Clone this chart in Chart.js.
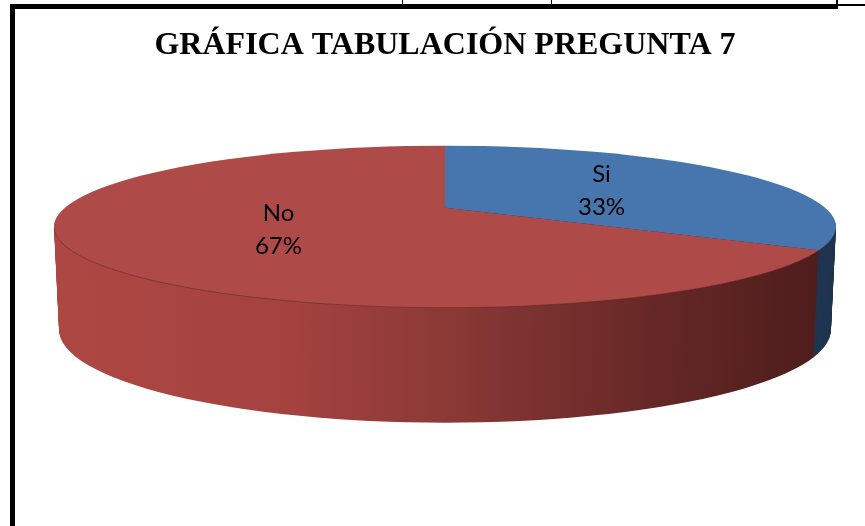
<!DOCTYPE html>
<html>
<head>
<meta charset="utf-8">
<script src="https://cdn.jsdelivr.net/npm/chart.js@4"></script>
<style>
    body { margin: 0; background: #fff; }
    #wrap { position: relative; width: 865px; height: 526px; overflow: hidden; }
    .rule { position: absolute; background: #000; }
</style>
</head>
<body>
<div id="wrap">
    <canvas id="pregunta7Chart" width="865" height="526"></canvas>
    <!-- table borders of the original document -->
    <div class="rule" style="left:10px; top:4px; width:828px; height:5px;"></div>
    <div class="rule" style="left:837px; top:4px; width:28px; height:2px;"></div>
    <div class="rule" style="left:10px; top:4px; width:5px; height:522px;"></div>
    <div class="rule" style="left:402px; top:0; width:1px; height:5px;"></div>
    <div class="rule" style="left:551px; top:0; width:1px; height:5px;"></div>
    <div class="rule" style="left:836px; top:0; width:2px; height:5px;"></div>
</div>
<script>
var categories = ['Si', 'No'];
var respuestas = [33, 67];
var chartTitle = 'GRÁFICA TABULACIÓN PREGUNTA 7';

var topColors = ['#4775ad', '#ae4a47'];

// shape of the tilted pie (top face, base face, depth)
var TOP = {rx: 391, ry: 81, dy: 0};
var BASE = {rx: 386, ry: 93, dy: 103};
var SHIFT = 19;      // apex sits above the ellipse centre (perspective)
var DEPTH = 103;
var OVER = 1.4;      // arcs drawn larger, then clipped to the ellipse

function lerp(a, b, t) { return a + (b - a) * t; }

var pie3d = {
    id: 'pie3d',
    beforeDatasetsDraw: function (chart) {
        var ctx = chart.ctx;
        var arcs = chart.getDatasetMeta(0).data;
        var cx = arcs[0].x, cy = arcs[0].y, r0 = arcs[0].outerRadius;
        var fills = arcs.map(function (a) { return a.options.backgroundColor; });

        // side colours, gradient in the arc's own (unscaled) space
        var g = ctx.createLinearGradient(cx - r0 / OVER, 0, cx + r0 / OVER, 0);
        g.addColorStop(0, '#ad4744');
        g.addColorStop(0.3, '#a4423f');
        g.addColorStop(0.5, '#8b3936');
        g.addColorStop(0.75, '#682927');
        g.addColorStop(1, '#4b1c1b');
        var sides = ['#1f3550', g];

        for (var i = DEPTH; i >= 0; i--) {
            var t = i / DEPTH;
            var rx = lerp(TOP.rx, BASE.rx, t);
            var ry = lerp(TOP.ry, BASE.ry, t);
            var ey = cy + lerp(TOP.dy, BASE.dy, t);
            var sh = SHIFT * ry / TOP.ry;
            ctx.save();
            ctx.beginPath();
            ctx.ellipse(cx, ey, rx, ry, 0, 0, Math.PI * 2);
            ctx.clip();
            ctx.translate(cx, ey - sh);
            ctx.scale(OVER * rx / r0, OVER * ry / r0);
            ctx.translate(-cx, -cy);
            arcs.forEach(function (a, k) {
                a.options.backgroundColor = i === 0 ? fills[k] : sides[k];
                a.draw(ctx);
            });
            ctx.restore();
        }
        arcs.forEach(function (a, k) { a.options.backgroundColor = fills[k]; });

        // faint rim line where the top face meets the side
        ctx.save();
        ctx.strokeStyle = 'rgba(90,30,28,0.45)';
        ctx.lineWidth = 1;
        ctx.beginPath();
        ctx.ellipse(cx, cy, TOP.rx, TOP.ry, 0, 0.05, Math.PI - 0.02);
        ctx.stroke();
        ctx.restore();
        return false;
    },
    afterDraw: function (chart) {
        var ctx = chart.ctx;
        var arcs = chart.getDatasetMeta(0).data;
        var vals = chart.data.datasets[0].data;
        var total = vals.reduce(function (s, v) { return s + v; }, 0);
        ctx.save();
        ctx.fillStyle = '#000';
        ctx.font = '24px Lato';
        ctx.textAlign = 'center';
        ctx.textBaseline = 'middle';
        arcs.forEach(function (a, k) {
            var mid = (a.startAngle + a.endAngle) / 2;
            var x = a.x - 5 + Math.cos(mid) * 0.48 * TOP.rx;
            var y = a.y - SHIFT + 2 + Math.sin(mid) * 0.48 * TOP.ry;
            ctx.fillText(chart.data.labels[k], x, y - 16);
            ctx.fillText(Math.round(vals[k] / total * 100) + '%', x, y + 17);
        });
        ctx.restore();
    }
};

var chart7 = new Chart(document.getElementById('pregunta7Chart'), {
    type: 'pie',
    data: {
        labels: categories,
        datasets: [{
            data: respuestas,
            backgroundColor: topColors,
            borderWidth: 0
        }]
    },
    options: {
        responsive: false,
        animation: false,
        devicePixelRatio: 1,
        layout: {padding: {left: 25, right: 0, top: 0, bottom: 138}},
        plugins: {
            legend: {display: false},
            tooltip: {enabled: false},
            title: {
                display: true,
                text: chartTitle,
                color: '#000',
                font: {family: 'Liberation Serif', size: 32, weight: 'bold'},
                padding: {top: 27, bottom: 0}
            }
        }
    },
    plugins: [pie3d]
});
</script>
</body>
</html>
